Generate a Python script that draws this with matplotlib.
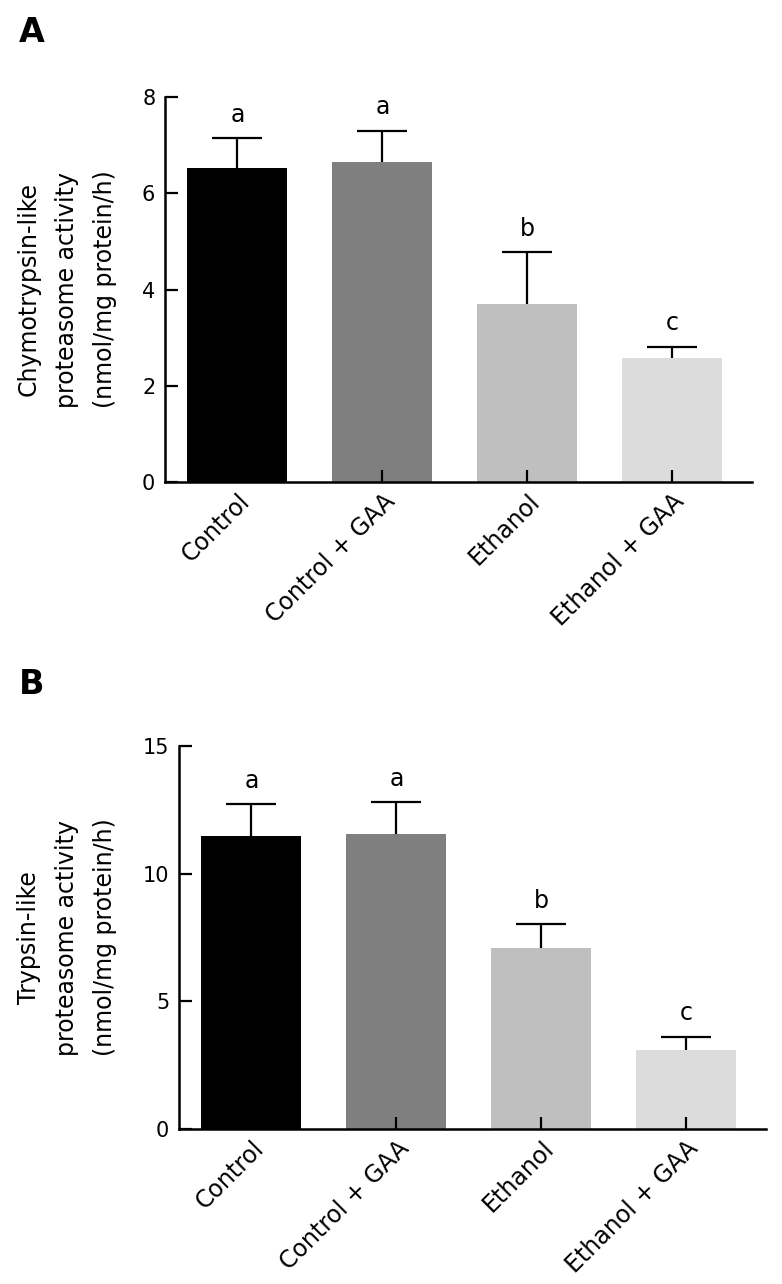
import numpy as np
import matplotlib
matplotlib.use('Agg')
import matplotlib.pyplot as plt
import matplotlib.transforms as mtransforms

groups = ['Control', 'Control + GAA', 'Ethanol', 'Ethanol + GAA']
colors = ['#000000', '#7f7f7f', '#bfbfbf', '#dcdcdc']

chymo_mean = [6.52, 6.65, 3.70, 2.58]
chymo_err = [0.62, 0.65, 1.07, 0.23]
chymo_letters = ['a', 'a', 'b', 'c']

trypsin_mean = [11.49, 11.57, 7.10, 3.10]
trypsin_err = [1.23, 1.23, 0.91, 0.52]
trypsin_letters = ['a', 'a', 'b', 'c']

plt.rcParams['font.family'] = ['DejaVu Sans']

W, H = 782, 1284
fig = plt.figure(figsize=(W / 100, H / 100), dpi=100)


def panel(rect, means, errs, letters, yticks, ylabel, tag, tag_xy, label_x):
    ax = fig.add_axes(rect)
    ax.set_axisbelow(False)
    x = np.arange(len(groups))
    ax.bar(x, means, width=0.69, color=colors, zorder=2)
    eb = ax.errorbar(x, means, yerr=[np.zeros(len(errs)), errs], fmt='none',
                     ecolor='black', elinewidth=1.6, capsize=18, capthick=1.6, zorder=3)
    eb[1][0].set_visible(False)  # no lower caps
    for xi, m, e, l in zip(x, means, errs, letters):
        ax.annotate(l, (xi, m + e), xytext=(0, 12), textcoords='offset points',
                    ha='center', va='baseline', fontsize=17)
    ax.set_xlim(-0.5, 3.55)
    ax.set_ylim(0, yticks[-1])
    ax.set_yticks(yticks)
    ax.set_xticks(x)
    ax.set_xticklabels(groups, rotation=45, ha='right', rotation_mode='anchor', fontsize=17)
    shift = mtransforms.ScaledTranslation(2 / 72, 0, fig.dpi_scale_trans)
    for lab in ax.get_xticklabels():
        lab.set_transform(lab.get_transform() + shift)
    ax.tick_params(axis='x', direction='in', length=9, width=1.6, pad=5)
    ax.tick_params(axis='y', direction='in', length=9, width=1.6, labelsize=15, pad=7)
    for s in ['top', 'right']:
        ax.spines[s].set_visible(False)
    for s in ['left', 'bottom']:
        ax.spines[s].set_linewidth(1.8)
    pos = ax.get_position()
    fig.text(label_x, pos.y0 + pos.height / 2, ylabel, rotation=90, ha='center',
             va='center', multialignment='center', fontsize=17, linespacing=1.75)
    fig.text(tag_xy[0], tag_xy[1], tag, fontsize=24, fontweight='bold', ha='left', va='top')
    return ax


panel([165 / W, (H - 482) / H, 587 / W, 385 / H], chymo_mean, chymo_err, chymo_letters,
      [0, 2, 4, 6, 8], 'Chymotrypsin-like\nproteasome activity\n(nmol/mg protein/h)',
      'A', (19 / W, 1 - 16 / H), 67 / W)
panel([179 / W, (H - 1129) / H, 587 / W, 383 / H], trypsin_mean, trypsin_err, trypsin_letters,
      [0, 5, 10, 15], 'Trypsin-like\nproteasome activity\n(nmol/mg protein/h)',
      'B', (19 / W, 1 - 668 / H), 67 / W)

fig.savefig('out.png', dpi=100)
